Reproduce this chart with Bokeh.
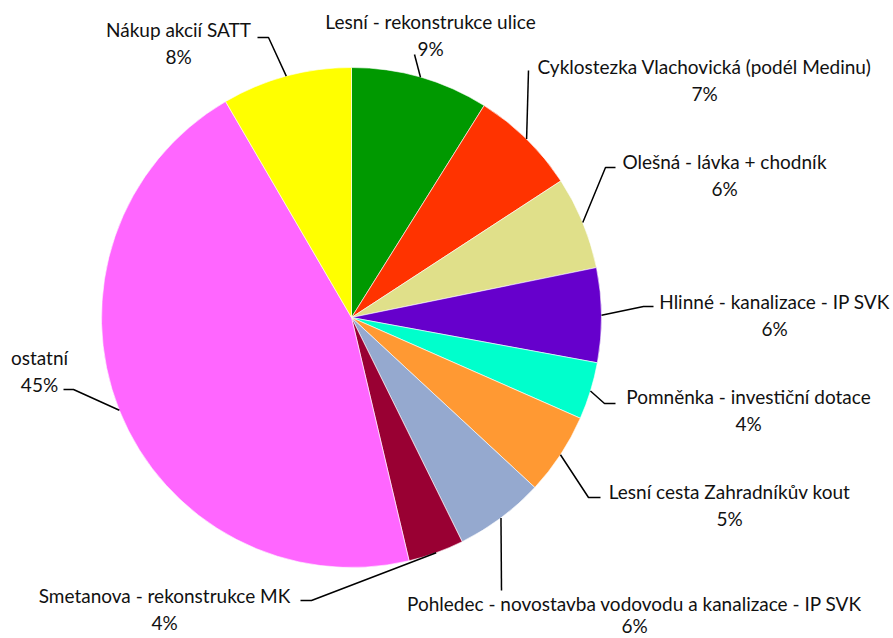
import math
from bokeh.plotting import figure
from bokeh.models import Range1d, ColumnDataSource
from bokeh.core.properties import value
from bokeh.embed import file_html
from bokeh.resources import INLINE

# ---- data (clockwise from 12 o'clock) ----
categories = [
    "Lesní - rekonstrukce ulice",
    "Cyklostezka Vlachovická (podél Medinu)",
    "Olešná - lávka + chodník",
    "Hlinné - kanalizace - IP SVK",
    "Pomněnka - investiční dotace",
    "Lesní cesta Zahradníkův kout",
    "Pohledec - novostavba vodovodu a kanalizace - IP SVK",
    "Smetanova - rekonstrukce MK",
    "ostatní",
    "Nákup akcií SATT",
]
shares = [8.9, 6.9, 6.0, 6.1, 3.7, 5.3, 5.8, 3.6, 45.3, 8.4]
colors = ["#009900", "#FF3300", "#E0E08A", "#6600CC", "#00FFCC",
          "#FF9933", "#95A9CF", "#990033", "#FF66FF", "#FFFF00"]

# ---- layout (screen pixel coordinates of the 893x638 picture) ----
CX, CY, R = 351, 317, 250
label_pos = [(430, 21), (704, 66), (724, 161), (774, 301), (748, 396),
             (729, 491), (634, 603), (164, 595), (39, 357), (178, 29)]
line_gap = [27, 27, 27, 27, 27, 27, 22, 27, 27, 27]
elbows = [None, (528, 70), (605, 167), (643, 306), (604, 403),
          (588, 497), (501, 590), (311, 600), (73, 389), (268, 37)]
ends = [(414, 54), (528, 70), (615, 167), (653, 306), (615, 403),
        (600, 497), (501, 590), (300, 600), (63, 389), (257, 37)]

W, H = 893, 638
p = figure(width=W, height=H, output_backend="svg", toolbar_location=None,
           x_range=Range1d(0, W), y_range=Range1d(0, H),
           min_border=0)
p.axis.visible = False
p.grid.visible = False
p.outline_line_color = None
p.background_fill_color = "white"

def sy(y):
    return H - y

total = sum(shares)
starts, stops, mids = [], [], []
cum = 0.0
for v in shares:
    a0 = cum / total * 2 * math.pi
    cum += v
    a1 = cum / total * 2 * math.pi
    starts.append(math.pi / 2 - a1)
    stops.append(math.pi / 2 - a0)
    mids.append((a0 + a1) / 2)

src = ColumnDataSource(dict(start=starts, end=stops, color=colors))
p.wedge(x=CX, y=sy(CY), radius=R, start_angle="start", end_angle="end",
        fill_color="color", line_color="white", line_width=0.6, source=src)

# leader lines
for i, m in enumerate(mids):
    ex = CX + R * math.sin(m)
    ey = CY - R * math.cos(m)
    xs = [ex]
    ys = [ey]
    if elbows[i] is not None:
        xs.append(elbows[i][0]); ys.append(elbows[i][1])
    xs.append(ends[i][0]); ys.append(ends[i][1])
    p.line(xs, [sy(y) for y in ys], line_color="black", line_width=1.5)

names_x = [lp[0] for lp in label_pos]
names_y = [sy(lp[1]) for lp in label_pos]
pct_y = [sy(lp[1] + g) for lp, g in zip(label_pos, line_gap)]
pct_txt = [f"{round(v / total * 100)}%" for v in shares]

FS = "19px"
p.text(x=names_x, y=names_y, text=categories, text_align="center",
       text_baseline="middle", text_font=value("Lato"),
       text_font_size=FS, text_color="#111111")
p.text(x=names_x, y=pct_y, text=pct_txt, text_align="center",
       text_baseline="middle", text_font=value("Lato"),
       text_font_size=FS, text_color="#111111")

open("out.html", "w").write(file_html(p, INLINE))
